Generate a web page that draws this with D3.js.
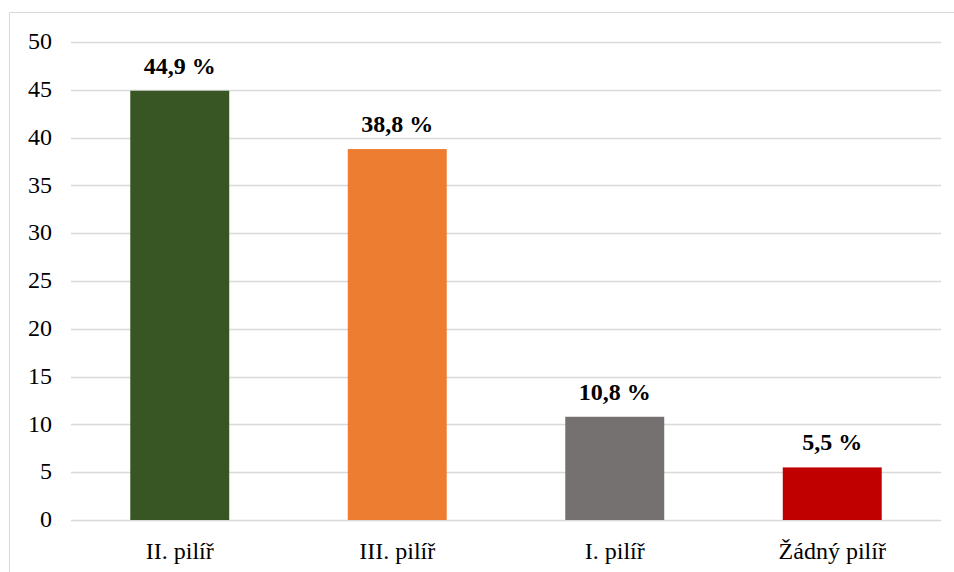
<!DOCTYPE html>
<html><head><meta charset="utf-8">
<script src="https://cdn.jsdelivr.net/npm/d3@7"></script>
<style>body{margin:0;background:#fff}svg{display:block}</style>
</head><body>
<script>
const categories = ["II. pilíř", "III. pilíř", "I. pilíř", "Žádný pilíř"];
const values = [44.9, 38.8, 10.8, 5.5];
const labels = ["44,9 %", "38,8 %", "10,8 %", "5,5 %"];
const colors = ["#375623", "#ED7D31", "#767171", "#C00000"];
const yTicks = [0, 5, 10, 15, 20, 25, 30, 35, 40, 45, 50];

const W = 954, H = 572;
const svg = d3.select("body").append("svg").attr("width", W).attr("height", H)
  .style("font-family", "'Liberation Serif','Times New Roman',serif");

// chart border (top + left)
svg.append("line").attr("x1", 9.5).attr("x2", W).attr("y1", 12.5).attr("y2", 12.5).attr("stroke", "#d9d9d9");
svg.append("line").attr("x1", 9.5).attr("x2", 9.5).attr("y1", 12.5).attr("y2", H).attr("stroke", "#d9d9d9");

const x = d3.scaleBand().domain(categories).range([71, 941]).paddingInner(0.545).paddingOuter(0.2725);
const y = d3.scaleLinear().domain([0, 50]).range([520, 42]);

// gridlines
svg.append("g").selectAll("line").data(yTicks).join("line")
  .attr("x1", 71).attr("x2", 941)
  .attr("y1", d => Math.round(y(d)) + 0.5).attr("y2", d => Math.round(y(d)) + 0.5)
  .attr("stroke", "#d9d9d9").attr("stroke-width", 1.3);

// y tick labels
svg.append("g").selectAll("text").data(yTicks).join("text")
  .attr("x", 52).attr("y", d => y(d)).attr("dy", "0.3em")
  .attr("text-anchor", "end").attr("font-size", 24).attr("fill", "#000")
  .text(d => d);

// bars
svg.append("g").selectAll("rect").data(values).join("rect")
  .attr("x", (d, i) => x(categories[i])).attr("width", x.bandwidth())
  .attr("y", d => y(d)).attr("height", d => y(0) - y(d))
  .attr("fill", (d, i) => colors[i]);

// value labels
svg.append("g").selectAll("text").data(values).join("text")
  .attr("x", (d, i) => x(categories[i]) + x.bandwidth() / 2)
  .attr("y", d => y(d) - 17)
  .attr("text-anchor", "middle").attr("font-size", 24).attr("font-weight", "bold")
  .text((d, i) => labels[i]);

// x labels
svg.append("g").selectAll("text").data(categories).join("text")
  .attr("x", d => x(d) + x.bandwidth() / 2).attr("y", 559)
  .attr("text-anchor", "middle").attr("font-size", 24)
  .text(d => d);
</script>
</body></html>
